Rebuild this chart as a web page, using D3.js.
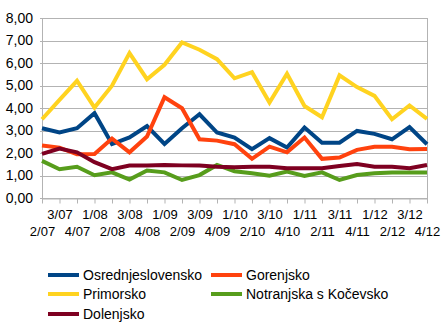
<!DOCTYPE html>
<html><head><meta charset="utf-8">
<script src="https://cdn.jsdelivr.net/npm/d3@7"></script>
<style>
html,body{margin:0;padding:0;background:#fff;}
svg{display:block;font-family:"Liberation Sans",Arial,sans-serif;}
</style></head>
<body><svg id="c" width="446" height="329"></svg>
<script>
const categories = ["2/07","3/07","4/07","1/08","2/08","3/08","4/08","1/09","2/09","3/09","4/09","1/10","2/10","3/10","4/10","1/11","2/11","3/11","4/11","1/12","2/12","3/12","4/12"];
const osrednjeslovensko = [3.10,2.91,3.10,3.77,2.40,2.69,3.20,2.40,3.10,3.72,2.91,2.69,2.17,2.66,2.24,3.13,2.46,2.46,2.98,2.85,2.61,3.15,2.39];
const gorenjsko = [2.33,2.24,1.94,1.96,2.64,2.03,2.73,4.48,3.99,2.61,2.55,2.39,1.74,2.28,2.03,2.69,1.74,1.80,2.14,2.28,2.28,2.17,2.18];
const primorsko = [3.50,4.36,5.21,4.02,4.99,6.44,5.28,5.92,6.91,6.59,6.17,5.32,5.59,4.24,5.52,4.09,3.59,5.45,4.93,4.54,3.50,4.11,3.52];
const notranjska = [1.65,1.28,1.39,1.01,1.14,0.82,1.22,1.14,0.80,1.02,1.47,1.19,1.10,0.99,1.17,0.98,1.14,0.80,1.02,1.10,1.13,1.13,1.13];
const dolenjsko = [1.96,2.20,2.03,1.59,1.28,1.44,1.44,1.47,1.45,1.44,1.39,1.37,1.39,1.39,1.32,1.32,1.32,1.42,1.51,1.39,1.39,1.32,1.47];
const yTicks = [0,1,2,3,4,5,6,7,8];
const seriesNames = ["Osrednjeslovensko","Gorenjsko","Primorsko","Notranjska s Kočevsko","Dolenjsko"];
const seriesColors = ["#004586","#ff420e","#ffd320","#579d1c","#7e0021"];
const seriesData = [osrednjeslovensko,gorenjsko,primorsko,notranjska,dolenjsko];

const svg = d3.select("#c");
const L = 42, R = 427, T = 18, B = 198;
const x = d3.scalePoint().domain(categories).range([L, R]);
const y = d3.scaleLinear().domain([0, 8]).range([B, T]);
const fmt = v => d3.format(".2f")(v).replace(".", ",");

// grid
svg.append("g").selectAll("line").data(yTicks).join("line")
  .attr("x1", L - 2).attr("x2", R)
  .attr("y1", d => Math.round(y(d)) + 0.5).attr("y2", d => Math.round(y(d)) + 0.5)
  .attr("stroke", "#b3b3b3").attr("stroke-width", 1);
// frame verticals
svg.append("line").attr("x1", L + 0.5).attr("x2", L + 0.5).attr("y1", y(8)).attr("y2", y(0) + 5)
  .attr("stroke", "#b3b3b3");
svg.append("line").attr("x1", R + 0.5).attr("x2", R + 0.5).attr("y1", y(8)).attr("y2", y(0) + 5)
  .attr("stroke", "#b3b3b3");

// y axis labels
const yAxis = svg.append("g").attr("transform", `translate(${L},0)`)
  .call(d3.axisLeft(y).tickValues(yTicks).tickFormat(fmt).tickSize(0).tickPadding(9));
yAxis.select(".domain").remove();
yAxis.selectAll("text").attr("font-size", 14).attr("fill", "#000").attr("font-family", "Liberation Sans, Arial, sans-serif");

// x axis
const xAxis = svg.append("g").attr("transform", `translate(0,${Math.round(B) + 0.5})`)
  .call(d3.axisBottom(x).tickSize(5).tickSizeOuter(0).tickPadding(0));
xAxis.select(".domain").attr("stroke", "#b3b3b3");
xAxis.selectAll(".tick line").attr("stroke", "#b3b3b3");
xAxis.selectAll("text").attr("font-size", 13).attr("fill", "#000")
  .attr("font-family", "Liberation Sans, Arial, sans-serif")
  .attr("dy", null)
  .attr("y", (d, i) => i % 2 === 1 ? 20.5 : 37);

// lines (first series drawn first)
const line = d3.line().x((d, i) => x(categories[i])).y(d => y(d)).curve(d3.curveLinear);
seriesData.forEach((s, k) => {
  svg.append("path").datum(s).attr("d", line).attr("fill", "none")
    .attr("stroke", seriesColors[k]).attr("stroke-width", 4)
    .attr("stroke-linejoin", "miter").attr("stroke-linecap", "butt");
});

// legend
const legPos = [[48, 275], [211, 275], [48, 294], [211, 294], [48, 314]];
seriesNames.forEach((n, k) => {
  const [lx, ly] = legPos[k];
  svg.append("line").attr("x1", lx).attr("x2", lx + 31).attr("y1", ly).attr("y2", ly)
    .attr("stroke", seriesColors[k]).attr("stroke-width", 4);
  svg.append("text").attr("x", lx + 35).attr("y", ly).attr("dy", "0.35em")
    .attr("font-size", 14).attr("fill", "#000").text(n);
});
</script></body></html>
